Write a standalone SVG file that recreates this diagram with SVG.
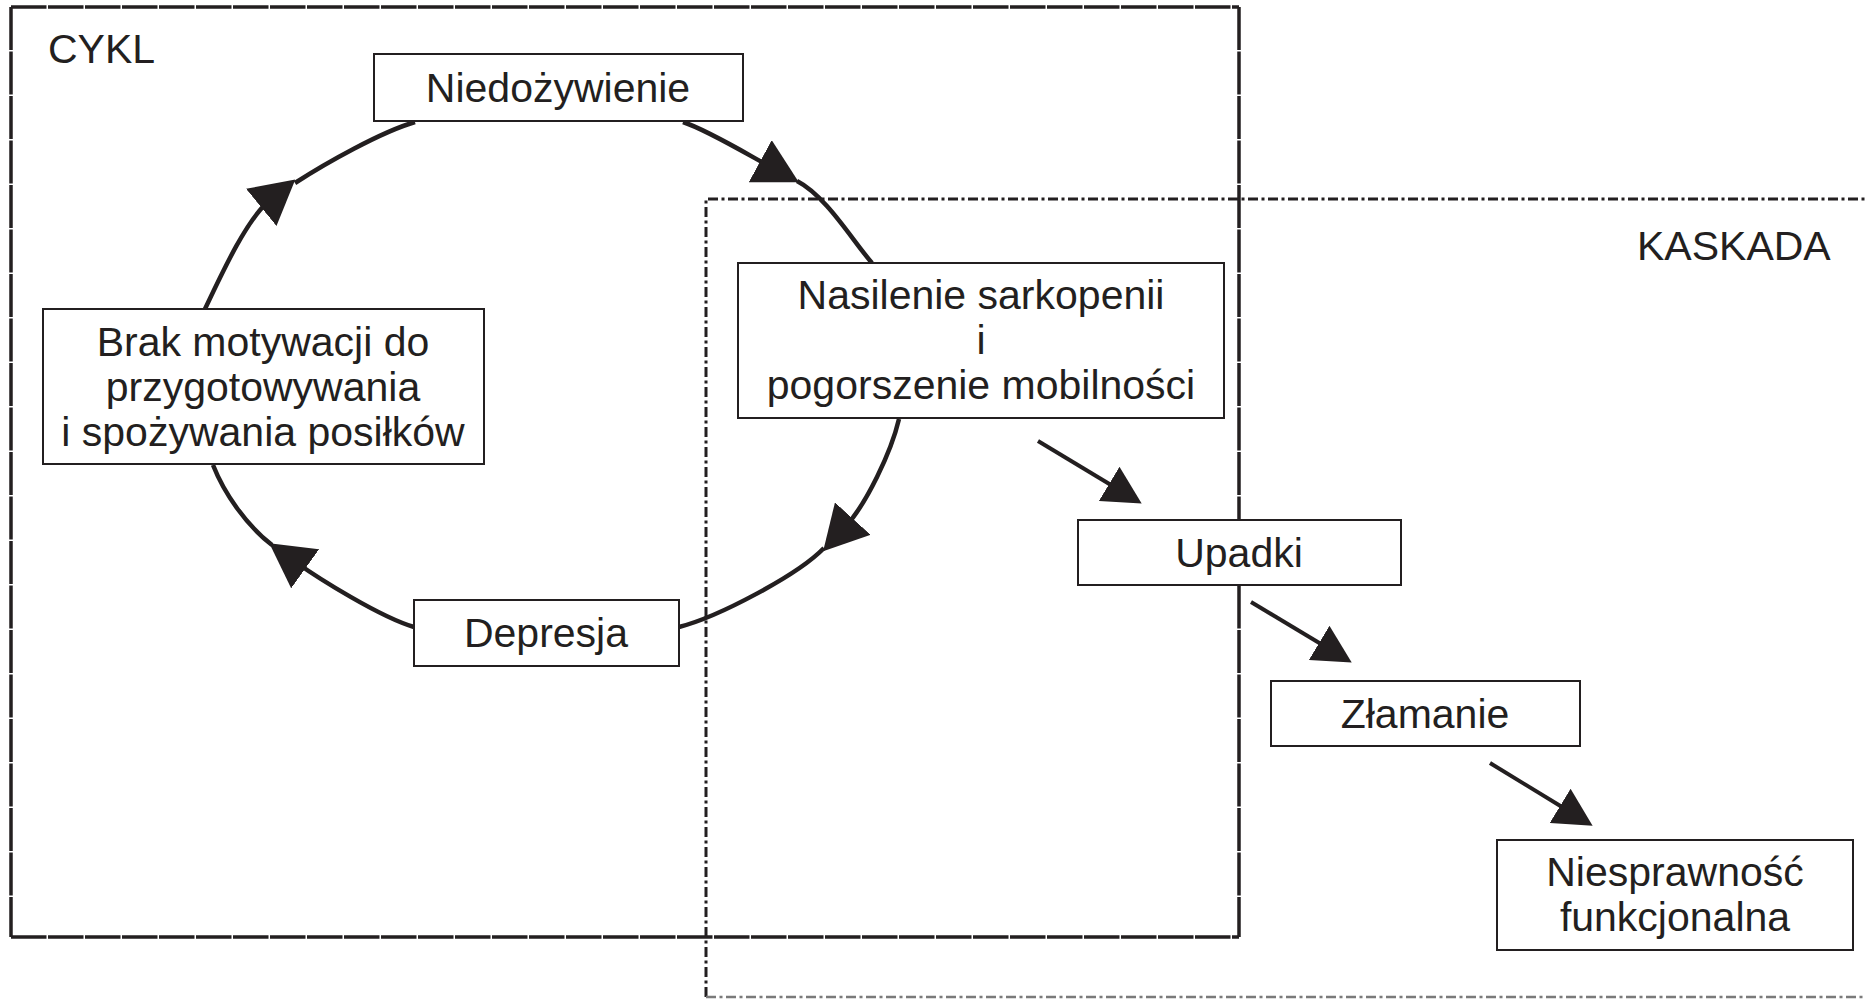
<svg xmlns="http://www.w3.org/2000/svg" width="1866" height="999" viewBox="0 0 1866 999">
<style>
.bg{fill:#ffffff}
.frame{fill:none;stroke:#231f20;stroke-width:3.5}
.fh{stroke-dasharray:35.5 1.5}
.fv{stroke-dasharray:43 1.5}
.dd{fill:none;stroke:#231f20;stroke-width:3;stroke-dasharray:10 3.5 3 3.5}
.ddg{fill:none;stroke:#7a7a7a;stroke-width:2.5;stroke-dasharray:10 3.5 3 3.5}
.box{fill:#ffffff;stroke:#231f20;stroke-width:2}
.t{font-family:"Liberation Sans",Arial,Helvetica,sans-serif;font-size:41px;fill:#231f20}
.c{text-anchor:middle}
.arc{fill:none;stroke:#231f20;stroke-width:4.5}
.st{fill:none;stroke:#231f20;stroke-width:4}
</style>
<defs>
<marker id="big" markerUnits="userSpaceOnUse" viewBox="0 0 44 48" markerWidth="44" markerHeight="48" refX="10" refY="24" orient="auto">
<path d="M0,0 L44,24 L0,48 z" fill="#231f20"/>
</marker>
<marker id="small" markerUnits="userSpaceOnUse" viewBox="0 0 38 40" markerWidth="38" markerHeight="40" refX="8" refY="20" orient="auto">
<path d="M0,0 L38,20 L0,40 z" fill="#231f20"/>
</marker>
</defs>
<rect class="bg" x="0" y="0" width="1866" height="999"/>

<g id="cykl">
<path class="frame fh" d="M11,7 L1239,7"/>
<path class="frame fh" d="M11,937 L1239,937"/>
<path class="frame fv" d="M11,7 L11,937"/>
<path class="frame fv" d="M1239,7 L1239,937"/>
<text class="t" x="48" y="63">CYKL</text>
</g>

<g id="kaskada">
<path class="dd" d="M706,997 L706,199 L1866,199"/>
<path class="ddg" d="M706,997 L1866,997"/>
<text class="t" x="1637" y="260">KASKADA</text>
</g>

<g id="connectors">
<path class="arc" d="M205,309 C222,273 247,219 269,201" marker-end="url(#big)"/>
<path class="arc" d="M295,183 C326,163 381,132 415,122"/>
<path class="arc" d="M683,122 C707,130 747,154 769,166" marker-end="url(#big)"/>
<path class="arc" d="M797,181 C826,196 852,240 872,263"/>
<path class="arc" d="M899,419 C891,453 866,504 846,526" marker-end="url(#big)"/>
<path class="arc" d="M824,548 C798,575 718,617 679,627"/>
<path class="arc" d="M414,627 C380,617 318,578 297,563" marker-end="url(#big)"/>
<path class="arc" d="M272,545 C246,525 224,493 213,465"/>
<path class="st" d="M1038,441 L1116,488" marker-end="url(#small)"/>
<path class="st" d="M1251,602 L1326,647" marker-end="url(#small)"/>
<path class="st" d="M1490,763 L1567,810" marker-end="url(#small)"/>
</g>

<g id="niedozywienie">
<rect class="box" x="374" y="54" width="369" height="67"/>
<text class="t c" x="558" y="102">Niedożywienie</text>
</g>

<g id="brak">
<rect class="box" x="43" y="309" width="441" height="155"/>
<text class="t c" x="263" y="356">Brak motywacji do</text>
<text class="t c" x="263" y="401">przygotowywania</text>
<text class="t c" x="263" y="446">i spożywania posiłków</text>
</g>

<g id="nasilenie">
<rect class="box" x="738" y="263" width="486" height="155"/>
<text class="t c" x="981" y="309">Nasilenie sarkopenii</text>
<text class="t c" x="981" y="354">i</text>
<text class="t c" x="981" y="399">pogorszenie mobilności</text>
</g>

<g id="depresja">
<rect class="box" x="414" y="600" width="265" height="66"/>
<text class="t c" x="546" y="647">Depresja</text>
</g>

<g id="upadki">
<rect class="box" x="1078" y="520" width="323" height="65"/>
<text class="t c" x="1239" y="567">Upadki</text>
</g>

<g id="zlamanie">
<rect class="box" x="1271" y="681" width="309" height="65"/>
<text class="t c" x="1425" y="728">Złamanie</text>
</g>

<g id="niesprawnosc">
<rect class="box" x="1497" y="840" width="356" height="110"/>
<text class="t c" x="1675" y="886">Niesprawność</text>
<text class="t c" x="1675" y="931">funkcjonalna</text>
</g>
</svg>
